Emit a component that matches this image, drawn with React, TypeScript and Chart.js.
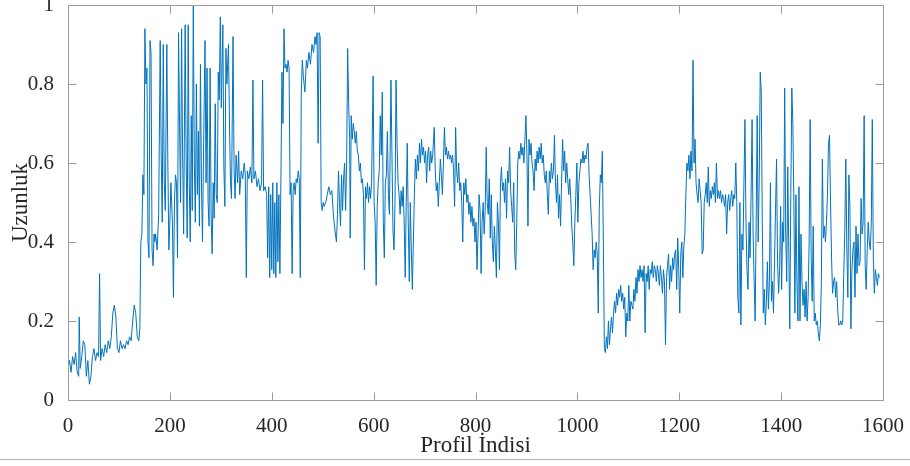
import { useEffect, useRef } from "react";
import { Chart, registerables } from "chart.js";

Chart.register(...registerables);

// ---- Data: profile index (x) and length (y) ----
const idxA = [0, 3, 6, 9, 12, 15, 18, 21, 22, 24, 27, 30, 33, 36, 39, 42, 45, 48, 51, 54, 57, 60, 62, 64, 67, 70, 73, 76, 79, 82, 85, 88, 91, 94, 97, 100, 103, 106, 109, 112, 115, 118, 121, 124, 127, 130, 133, 136, 139, 141, 143, 145, 147, 149, 151, 153, 155, 157, 159, 161, 163, 165, 167, 169];
const lenA = [0.08, 0.10, 0.07, 0.11, 0.09, 0.12, 0.07, 0.06, 0.21, 0.08, 0.11, 0.15, 0.14, 0.06, 0.10, 0.04, 0.06, 0.11, 0.13, 0.10, 0.12, 0.11, 0.32, 0.10, 0.13, 0.11, 0.14, 0.12, 0.15, 0.13, 0.16, 0.22, 0.24, 0.21, 0.13, 0.12, 0.15, 0.13, 0.14, 0.13, 0.15, 0.14, 0.16, 0.15, 0.20, 0.24, 0.22, 0.16, 0.15, 0.18, 0.40, 0.42, 0.57, 0.52, 0.94, 0.80, 0.84, 0.40, 0.36, 0.91, 0.88, 0.38, 0.34, 0.42];

const idxB = [170, 172, 175, 178, 181, 183, 185, 187, 189, 191, 194, 196, 198, 200, 202, 205, 207, 209, 211, 213, 215, 217, 219, 221, 223, 225, 227, 230, 232, 234, 236, 238, 240, 242, 244, 246, 248, 250, 252, 254, 256, 258, 260, 262, 264, 266, 269, 271, 273, 275, 277, 279, 281, 283, 285, 287, 289, 291, 293, 295, 297, 299, 301, 304, 306, 308, 310, 312, 315, 317, 319, 321, 324, 326, 328, 330, 333, 335, 337];
const lenB = [0.40, 0.42, 0.38, 0.47, 0.91, 0.62, 0.45, 0.90, 0.55, 0.48, 0.90, 0.60, 0.38, 0.45, 0.55, 0.45, 0.26, 0.50, 0.57, 0.55, 0.36, 0.93, 0.70, 0.50, 0.94, 0.62, 0.42, 0.95, 0.60, 0.41, 0.95, 0.55, 0.40, 0.72, 0.48, 1.00, 0.60, 0.45, 0.80, 0.52, 0.68, 0.44, 0.85, 0.55, 0.40, 0.62, 0.91, 0.55, 0.84, 0.50, 0.44, 0.84, 0.47, 0.37, 0.55, 0.46, 0.75, 0.52, 0.50, 0.83, 0.76, 0.97, 0.74, 0.95, 0.59, 0.49, 0.89, 0.80, 0.90, 0.70, 0.55, 0.51, 0.92, 0.59, 0.51, 0.62, 0.55, 0.63, 0.52];

const idxC = [340, 343, 346, 348, 350, 352, 355, 358, 361, 363, 365, 368, 371, 374, 377, 380, 382, 384, 387, 390, 392, 394, 396, 398, 400, 402, 404, 406, 408, 410, 412, 414, 416, 418, 420, 422, 424, 426, 428, 430, 432, 434, 436, 438, 440, 442, 444, 446, 448, 450, 452, 454, 456, 458, 460, 462, 465, 468, 470, 473, 476, 479, 482, 485, 487, 489, 491, 493, 495, 497, 499, 501, 503, 506, 509, 512, 515];
const lenC = [0.58, 0.56, 0.60, 0.57, 0.31, 0.58, 0.56, 0.59, 0.55, 0.81, 0.56, 0.58, 0.54, 0.56, 0.53, 0.55, 0.81, 0.53, 0.54, 0.52, 0.36, 0.54, 0.31, 0.52, 0.33, 0.55, 0.32, 0.50, 0.31, 0.55, 0.35, 0.52, 0.32, 0.56, 0.83, 0.70, 0.94, 0.84, 0.85, 0.83, 0.86, 0.84, 0.52, 0.55, 0.32, 0.53, 0.55, 0.52, 0.56, 0.55, 0.58, 0.56, 0.31, 0.78, 0.86, 0.82, 0.78, 0.86, 0.84, 0.88, 0.85, 0.90, 0.88, 0.92, 0.90, 0.93, 0.65, 0.93, 0.92, 0.50, 0.48, 0.50, 0.49, 0.50, 0.52, 0.54, 0.52];

const idxD = [518, 521, 524, 527, 529, 531, 533, 535, 537, 539, 541, 543, 545, 547, 549, 551, 553, 554, 556, 558, 560, 562, 564, 566, 568, 570, 572, 574, 576, 578, 580, 582, 584, 586, 588, 590, 592, 594, 596, 599, 601, 603, 605, 607, 609, 611, 613, 615, 617, 619, 621, 623, 625, 627, 629, 631, 634, 636, 638, 640, 642, 644, 646, 648, 650, 652, 654, 656, 658, 660, 662, 664, 666, 668, 670, 672, 674, 676, 678, 680, 682, 684, 686, 688, 690, 692, 694, 696, 698, 700];
const lenD = [0.53, 0.47, 0.43, 0.40, 0.47, 0.58, 0.50, 0.44, 0.57, 0.48, 0.56, 0.60, 0.48, 0.60, 0.89, 0.75, 0.66, 0.41, 0.72, 0.66, 0.70, 0.68, 0.65, 0.68, 0.63, 0.62, 0.58, 0.60, 0.55, 0.56, 0.52, 0.33, 0.54, 0.51, 0.55, 0.50, 0.54, 0.51, 0.55, 0.82, 0.50, 0.45, 0.29, 0.49, 0.55, 0.58, 0.72, 0.62, 0.78, 0.45, 0.36, 0.55, 0.57, 0.68, 0.52, 0.47, 0.81, 0.62, 0.43, 0.38, 0.50, 0.81, 0.65, 0.55, 0.52, 0.47, 0.53, 0.49, 0.54, 0.45, 0.31, 0.50, 0.65, 0.45, 0.30, 0.50, 0.38, 0.28, 0.40, 0.52, 0.61, 0.56, 0.62, 0.58, 0.65, 0.60, 0.66, 0.62, 0.64, 0.60];

const idxE = [702, 704, 706, 708, 710, 712, 714, 716, 719, 721, 723, 725, 727, 729, 731, 733, 735, 737, 739, 741, 743, 745, 747, 749, 751, 753, 755, 757, 759, 761, 763, 765, 767, 769, 771, 773, 775, 777, 779, 781, 783, 785, 787, 789, 791, 793, 795, 797, 799, 801, 803, 805, 807, 809, 811, 813, 815, 817, 819, 821, 823, 825, 827, 829, 831, 833, 835, 837, 839, 841, 843, 845, 847, 849, 851, 853, 855, 857, 859, 861, 863, 865, 867, 869, 871, 873, 875, 877, 879];
const lenE = [0.63, 0.55, 0.62, 0.64, 0.58, 0.63, 0.60, 0.62, 0.69, 0.58, 0.53, 0.55, 0.49, 0.55, 0.61, 0.57, 0.52, 0.60, 0.69, 0.62, 0.64, 0.61, 0.63, 0.61, 0.62, 0.60, 0.62, 0.58, 0.49, 0.69, 0.58, 0.55, 0.60, 0.53, 0.55, 0.50, 0.40, 0.55, 0.52, 0.56, 0.50, 0.52, 0.47, 0.50, 0.45, 0.49, 0.44, 0.46, 0.40, 0.45, 0.33, 0.42, 0.52, 0.48, 0.32, 0.45, 0.50, 0.42, 0.48, 0.64, 0.50, 0.47, 0.56, 0.41, 0.52, 0.40, 0.35, 0.44, 0.38, 0.31, 0.50, 0.45, 0.33, 0.55, 0.59, 0.53, 0.55, 0.50, 0.56, 0.46, 0.58, 0.55, 0.64, 0.53, 0.49, 0.45, 0.55, 0.37, 0.33];

const idxF = [881, 883, 885, 887, 889, 891, 893, 895, 897, 899, 901, 903, 905, 907, 909, 911, 913, 915, 917, 919, 921, 923, 925, 927, 929, 931, 933, 935, 937, 939, 941, 943, 945, 947, 949, 951, 953, 955, 957, 959, 961, 963, 965, 967, 969, 971, 973, 975, 977, 979, 981, 983, 985, 987, 989, 991, 993, 995, 997, 999, 1001, 1003, 1005, 1007, 1009, 1011, 1013, 1015, 1017, 1019, 1021, 1023, 1025, 1027, 1029, 1031, 1033, 1035, 1037, 1039, 1041, 1043, 1045, 1047, 1049, 1051, 1053, 1055];
const lenF = [0.45, 0.60, 0.63, 0.61, 0.65, 0.62, 0.64, 0.60, 0.66, 0.72, 0.62, 0.44, 0.66, 0.62, 0.65, 0.60, 0.58, 0.53, 0.61, 0.58, 0.63, 0.60, 0.64, 0.61, 0.65, 0.60, 0.62, 0.57, 0.55, 0.58, 0.52, 0.47, 0.58, 0.55, 0.60, 0.56, 0.58, 0.67, 0.55, 0.50, 0.57, 0.46, 0.52, 0.44, 0.55, 0.66, 0.58, 0.63, 0.55, 0.60, 0.56, 0.52, 0.56, 0.51, 0.44, 0.40, 0.34, 0.45, 0.52, 0.60, 0.45, 0.55, 0.58, 0.61, 0.60, 0.63, 0.60, 0.62, 0.61, 0.64, 0.65, 0.57, 0.52, 0.47, 0.42, 0.33, 0.38, 0.36, 0.40, 0.37, 0.22, 0.48, 0.57, 0.55, 0.63, 0.40, 0.13, 0.12];

const idxG = [1057, 1059, 1061, 1063, 1065, 1067, 1069, 1071, 1073, 1075, 1077, 1079, 1081, 1083, 1085, 1087, 1089, 1091, 1093, 1095, 1097, 1099, 1101, 1103, 1105, 1107, 1109, 1111, 1113, 1115, 1117, 1119, 1121, 1123, 1125, 1127, 1129, 1131, 1133, 1135, 1137, 1139, 1141, 1143, 1145, 1147, 1149, 1151, 1153, 1155, 1157, 1159, 1161, 1163, 1165, 1167, 1169, 1171, 1173, 1175, 1177, 1179, 1181, 1183, 1185, 1187, 1189, 1191, 1193, 1195, 1197, 1199, 1201, 1203, 1205, 1207, 1209, 1211, 1213, 1215, 1217, 1219, 1221, 1223, 1225, 1227, 1229, 1231, 1233];
const lenG = [0.16, 0.13, 0.20, 0.14, 0.18, 0.21, 0.17, 0.22, 0.25, 0.22, 0.27, 0.24, 0.28, 0.26, 0.29, 0.25, 0.27, 0.23, 0.26, 0.16, 0.22, 0.20, 0.29, 0.20, 0.25, 0.24, 0.23, 0.28, 0.25, 0.31, 0.27, 0.33, 0.30, 0.34, 0.31, 0.33, 0.30, 0.34, 0.17, 0.32, 0.30, 0.34, 0.28, 0.33, 0.32, 0.35, 0.31, 0.34, 0.33, 0.30, 0.34, 0.32, 0.29, 0.34, 0.31, 0.27, 0.33, 0.30, 0.14, 0.31, 0.34, 0.37, 0.28, 0.34, 0.30, 0.36, 0.33, 0.37, 0.38, 0.28, 0.41, 0.33, 0.22, 0.37, 0.40, 0.31, 0.39, 0.42, 0.52, 0.60, 0.58, 0.62, 0.56, 0.63, 0.58, 0.86, 0.60, 0.66, 0.55];

const idxH = [1235, 1237, 1239, 1241, 1243, 1245, 1247, 1249, 1251, 1253, 1255, 1257, 1259, 1261, 1263, 1265, 1267, 1269, 1271, 1273, 1275, 1277, 1279, 1281, 1283, 1285, 1287, 1289, 1291, 1293, 1295, 1297, 1299, 1301, 1303, 1305, 1307, 1309, 1311, 1313, 1315, 1317, 1319, 1321, 1323, 1325, 1327, 1329, 1331, 1333, 1335, 1337, 1339, 1341, 1343, 1345, 1347, 1349, 1351, 1353, 1355, 1357, 1359, 1361, 1363, 1365, 1367, 1369, 1371, 1373, 1375, 1377, 1379, 1381, 1383, 1385, 1387, 1389, 1391, 1393, 1395, 1397, 1399, 1401, 1403, 1405, 1407, 1409];
const lenH = [0.52, 0.50, 0.56, 0.53, 0.50, 0.37, 0.38, 0.50, 0.52, 0.55, 0.50, 0.59, 0.49, 0.53, 0.51, 0.54, 0.52, 0.55, 0.50, 0.60, 0.51, 0.53, 0.51, 0.53, 0.50, 0.52, 0.51, 0.49, 0.52, 0.42, 0.50, 0.52, 0.48, 0.51, 0.53, 0.49, 0.52, 0.51, 0.60, 0.50, 0.26, 0.22, 0.50, 0.19, 0.42, 0.38, 0.55, 0.71, 0.45, 0.33, 0.28, 0.45, 0.36, 0.52, 0.71, 0.42, 0.30, 0.20, 0.45, 0.72, 0.40, 0.56, 0.83, 0.78, 0.45, 0.22, 0.28, 0.19, 0.25, 0.35, 0.23, 0.30, 0.55, 0.25, 0.30, 0.22, 0.35, 0.48, 0.61, 0.35, 0.27, 0.33, 0.49, 0.28, 0.45, 0.40, 0.79, 0.42];

const idxI = [1411, 1413, 1415, 1417, 1419, 1421, 1423, 1425, 1427, 1429, 1431, 1433, 1435, 1437, 1439, 1441, 1443, 1445, 1447, 1449, 1451, 1453, 1455, 1457, 1459, 1461, 1463, 1465, 1467, 1469, 1471, 1473, 1475, 1477, 1479, 1481, 1483, 1485, 1487, 1489, 1491, 1493, 1495, 1497, 1499, 1501, 1503, 1505, 1507, 1509, 1511, 1513, 1515, 1517, 1519, 1521, 1523, 1525, 1527, 1529, 1531, 1533, 1535, 1537, 1539, 1541, 1543, 1545, 1547, 1549, 1551, 1553, 1555, 1557, 1559, 1561, 1563, 1565, 1567, 1569, 1571, 1573, 1575, 1577, 1579, 1581, 1583, 1585, 1587, 1589, 1591, 1593];
const lenI = [0.30, 0.59, 0.38, 0.18, 0.52, 0.79, 0.70, 0.50, 0.22, 0.52, 0.30, 0.20, 0.54, 0.20, 0.42, 0.30, 0.24, 0.28, 0.21, 0.30, 0.20, 0.26, 0.40, 0.71, 0.36, 0.25, 0.44, 0.20, 0.22, 0.19, 0.20, 0.17, 0.15, 0.19, 0.30, 0.61, 0.41, 0.44, 0.40, 0.45, 0.52, 0.65, 0.67, 0.50, 0.36, 0.27, 0.30, 0.31, 0.26, 0.30, 0.23, 0.19, 0.19, 0.20, 0.19, 0.20, 0.32, 0.43, 0.61, 0.38, 0.26, 0.57, 0.49, 0.18, 0.33, 0.38, 0.40, 0.26, 0.44, 0.32, 0.42, 0.34, 0.35, 0.51, 0.42, 0.45, 0.72, 0.34, 0.28, 0.38, 0.45, 0.40, 0.38, 0.45, 0.71, 0.36, 0.27, 0.33, 0.31, 0.29, 0.32, 0.31];

const xAxisTitle = "Profil İndisi";
const yAxisTitle = "Uzunluk";
const xRange = [0, 1600];
const yRange = [0, 1];
const xTickStep = 200;
const yTickStep = 0.2;

const profileIndex = [...idxA, ...idxB, ...idxC, ...idxD, ...idxE, ...idxF, ...idxG, ...idxH, ...idxI];
const lengthValue = [...lenA, ...lenB, ...lenC, ...lenD, ...lenE, ...lenF, ...lenG, ...lenH, ...lenI];

const SERIF = '"Liberation Serif", "Times New Roman", "DejaVu Serif", serif';
const TEXT = "#262626";
const AXIS = "#9c9c9c";

const axesBox = {
  id: "axesBox",
  afterDraw(chart: any) {
    const { ctx, chartArea: ca, scales } = chart;
    const xs = scales.x;
    const ys = scales.y;
    const len = 8;
    const L = Math.round(ca.left) + 0.5;
    const R = Math.round(ca.right) + 0.5;
    const T = Math.round(ca.top) + 0.5;
    const B = Math.round(ca.bottom) + 0.5;
    ctx.save();
    ctx.strokeStyle = AXIS;
    ctx.lineWidth = 1;
    ctx.beginPath();
    ctx.rect(L, T, R - L, B - T);
    xs.ticks.forEach((t: any) => {
      const p = Math.round(xs.getPixelForValue(t.value)) + 0.5;
      ctx.moveTo(p, B);
      ctx.lineTo(p, B - len);
      ctx.moveTo(p, T);
      ctx.lineTo(p, T + len);
    });
    ys.ticks.forEach((t: any) => {
      const p = Math.round(ys.getPixelForValue(t.value)) + 0.5;
      ctx.moveTo(L, p);
      ctx.lineTo(L + len, p);
      ctx.moveTo(R, p);
      ctx.lineTo(R - len, p);
    });
    ctx.stroke();
    ctx.restore();
  },
};

export default function App() {
  const ref = useRef<HTMLCanvasElement>(null);

  useEffect(() => {
    if (!ref.current) return;
    const chart = new Chart(ref.current, {
      type: "line",
      data: {
        datasets: [
          {
            data: profileIndex.map((x, i) => ({ x, y: lengthValue[i] })),
            borderColor: "#0072BD",
            borderWidth: 1,
            pointRadius: 0,
            tension: 0,
            fill: false,
          },
        ],
      },
      options: {
        responsive: false,
        animation: false,
        events: [],
        layout: { padding: { top: 5, right: 27, bottom: 6, left: 0 } },
        plugins: { legend: { display: false }, tooltip: { enabled: false } },
        scales: {
          x: {
            type: "linear",
            min: xRange[0],
            max: xRange[1],
            grid: { display: false },
            border: { display: false },
            ticks: {
              stepSize: xTickStep,
              color: TEXT,
              font: { family: SERIF, size: 21 },
              padding: 6,
              maxRotation: 0,
              autoSkip: false,
              callback: (v: any) => String(Math.round(Number(v))),
            },
            title: {
              display: true,
              text: xAxisTitle,
              color: TEXT,
              font: { family: SERIF, size: 23 },
              padding: { top: 0, bottom: 0 },
            },
            afterFit(s: any) {
              s.height = 60;
              s.paddingLeft = 0;
              s.paddingRight = 0;
            },
          },
          y: {
            type: "linear",
            min: yRange[0],
            max: yRange[1],
            grid: { display: false },
            border: { display: false },
            ticks: {
              stepSize: yTickStep,
              color: TEXT,
              font: { family: SERIF, size: 21 },
              padding: 6,
              callback: (v: any) => String(Number(Number(v).toFixed(1))),
            },
            title: {
              display: true,
              text: yAxisTitle,
              color: TEXT,
              font: { family: SERIF, size: 23 },
              padding: { top: 7, bottom: 0 },
            },
            afterFit(s: any) {
              s.width = 68;
              s.paddingTop = 0;
              s.paddingBottom = 0;
            },
          },
        },
      },
      plugins: [axesBox],
    });
    return () => chart.destroy();
  }, []);

  return (
    <div style={{ position: "fixed", left: 0, top: 0, width: 910, height: 466, background: "#fff" }}>
      <canvas ref={ref} width={910} height={466} style={{ display: "block" }} />
      <div style={{ position: "absolute", left: 0, top: 459, width: 910, height: 1, background: "#b4b4b4" }} />
    </div>
  );
}
